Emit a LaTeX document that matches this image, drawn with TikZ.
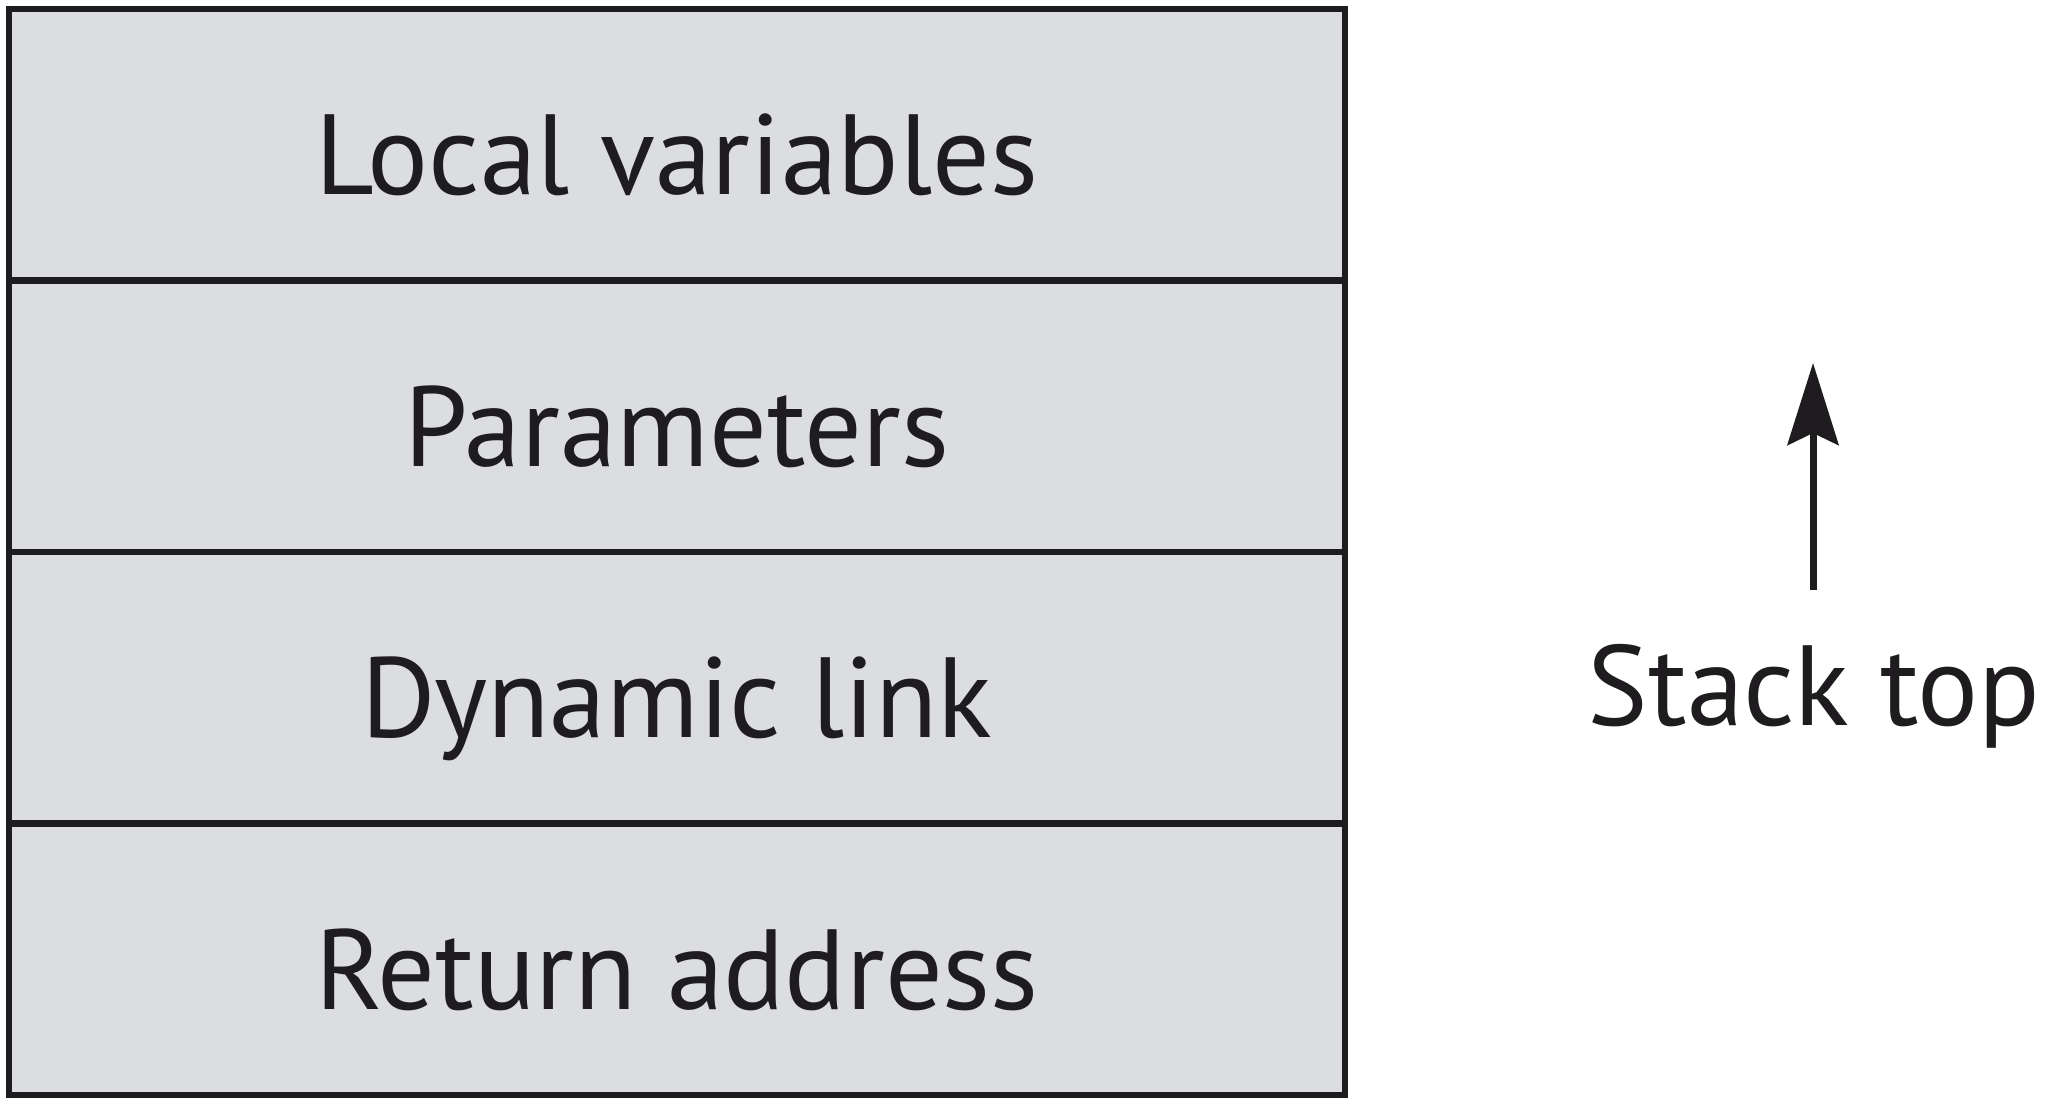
\documentclass[tikz,border=0pt]{standalone}
\usepackage{fontspec}
\setmainfont{PT Sans}
\usetikzlibrary{arrows.meta}
\definecolor{rowgray}{RGB}{220,221,223}
\definecolor{ink}{RGB}{30,28,30}
\begin{document}
\begin{tikzpicture}[x=0.5pt,y=-0.5pt,
  rowbox/.style={draw=ink, fill=rowgray, line width=3.2pt, rectangle,
    minimum width=668pt, minimum height=135.75pt, inner sep=0pt,
    text height=50pt, text depth=0pt, text=ink,
    font=\fontsize{57}{60}\selectfont},
  sidelabel/.style={anchor=base, inner sep=0pt, text=ink,
    font=\fontsize{57}{60}\selectfont},
  growarrow/.style={draw=ink, line width=3.5pt,
    -{Stealth[length=41pt, width=25.5pt, inset=6pt]}}]
  \useasboundingbox (0,0) rectangle (2048,1106);
  % activation record, top row first
  \node[rowbox] (r1) at (677,144.75) {Local variables};
  \node[rowbox] (r2) at (677,416.25) {Parameters};
  \node[rowbox] (r3) at (677,687.75) {Dynamic link};
  \node[rowbox] (r4) at (677,959.25) {Return address};
  % direction of stack growth
  \coordinate (tail) at (1813,590);
  \coordinate (tip) at (1813,363);
  \draw[growarrow] (tail) -- (tip);
  \node[sidelabel] (stk) at (1814,725) {Stack top};
\end{tikzpicture}
\end{document}
